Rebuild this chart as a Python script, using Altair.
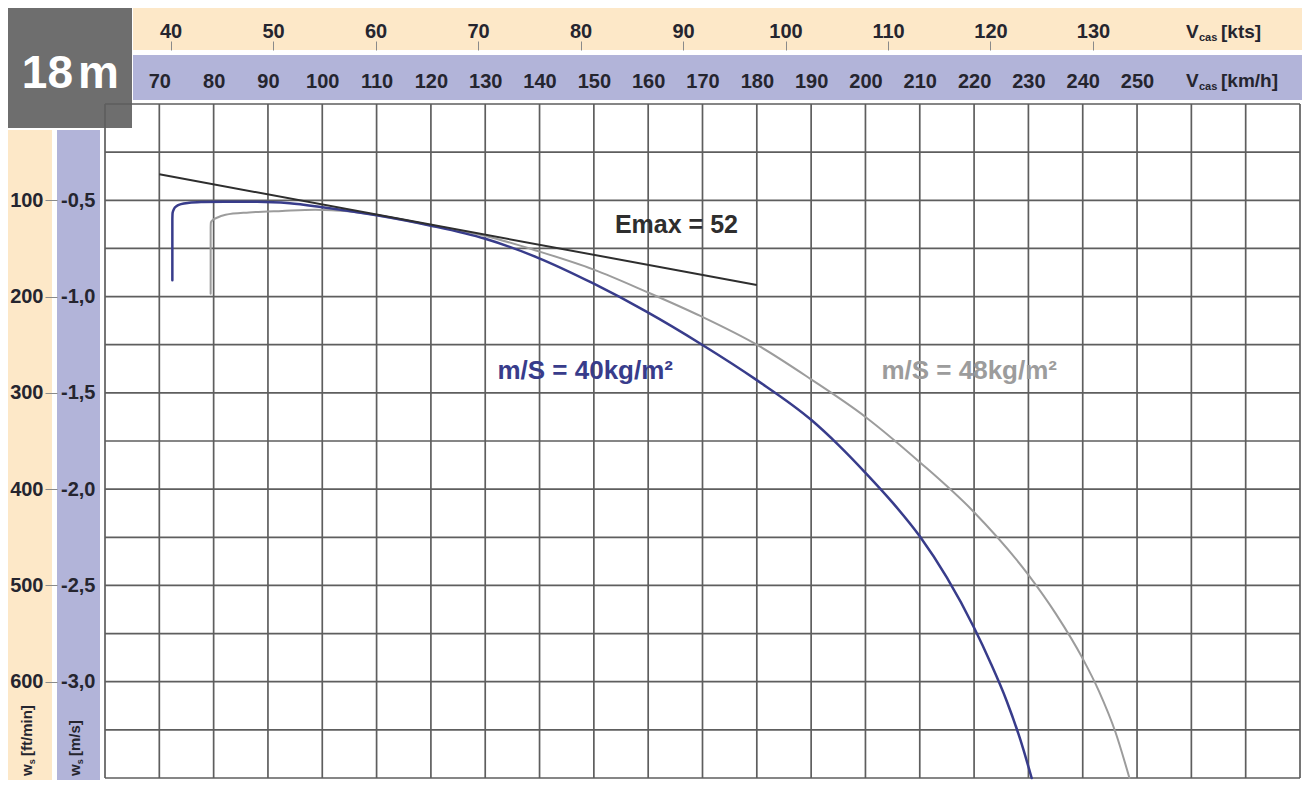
import altair as alt
import pandas as pd

# ---------------- data ----------------
kmh_ticks = [70, 80, 90, 100, 110, 120, 130, 140, 150, 160, 170, 180, 190, 200, 210, 220, 230, 240, 250]
kts_ticks = [40, 50, 60, 70, 80, 90, 100, 110, 120, 130]
ms_ticks = [-0.5, -1.0, -1.5, -2.0, -2.5, -3.0]
fpm_ticks = [100, 200, 300, 400, 500, 600]
grid_kmh = [60, 70, 80, 90, 100, 110, 120, 130, 140, 150, 160, 170, 180, 190, 200,
            210, 220, 230, 240, 250, 260, 270, 280]
grid_ms = [0.0, -0.25, -0.5, -0.75, -1.0, -1.25, -1.5, -1.75, -2.0, -2.25, -2.5,
           -2.75, -3.0, -3.25, -3.5]

# polar m/S = 40 kg/m2 (blue)
v40 = [72.4, 72.4, 72.45, 72.7, 73.2, 74.0, 75.5, 78.0, 82.0, 88.0, 94.0, 100.0,
       110.0, 120.0, 130.0, 139.5, 149.9, 159.6, 169.7, 180.0, 190.0, 195.0, 200.0,
       205.0, 210.0, 215.0, 220.0, 223.0, 226.0, 228.5, 230.6]
w40 = [-0.915, -0.60, -0.565, -0.545, -0.530, -0.520, -0.513, -0.509, -0.507, -0.507,
       -0.515, -0.536, -0.578, -0.632, -0.700, -0.796, -0.932, -1.077, -1.246, -1.434,
       -1.640, -1.770, -1.915, -2.070, -2.245, -2.460, -2.720, -2.900, -3.100, -3.300,
       -3.50]

# polar m/S = 48 kg/m2 (grey)
v48 = [79.45, 79.45, 79.5, 79.8, 80.5, 82.2, 86.5, 92.6, 98.7, 104.8, 110.0, 120.0,
       130.0, 139.5, 150.0, 159.6, 169.7, 180.0, 190.0, 200.0, 210.0, 220.0, 230.0,
       235.0, 240.0, 243.0, 246.0, 248.6]
w48 = [-0.985, -0.64, -0.615, -0.603, -0.592, -0.575, -0.563, -0.555, -0.549, -0.557,
       -0.578, -0.630, -0.685, -0.762, -0.860, -0.974, -1.102, -1.250, -1.430, -1.625,
       -1.860, -2.120, -2.445, -2.645, -2.880, -3.050, -3.260, -3.50]

# best glide tangent
v_emax = [70, 180]
w_emax = [-0.365, -0.94]

label_text = ["Emax = 52", "m/S = 40kg/m²", "m/S = 48kg/m²"]
label_v = [165.2, 148.4, 219.1]
label_w = [-0.628, -1.388, -1.388]

kmh_domain = [60, 280]
ms_domain = [-3.5, 0]
kts_domain = [33.6, 150.2]
fpm_domain = [0, 700]

# ---------------- style ----------------
W, H = 1195, 674
FONT = "Liberation Sans, Arial, sans-serif"
PEACH = "#fde8c8"
LAV = "#b2b4d9"
BOX = "#6e6e6e"
GRID = "#5e5e5e"
BLUE = "#383c8b"
GREYC = "#9c9c9c"
DARK = "#2e2e2e"
LABEL = "#25252f"
TICKC = "#8a8a8a"

xs = alt.Scale(domain=kmh_domain, nice=False, zero=False)
ys = alt.Scale(domain=ms_domain, nice=False, zero=False)
one = pd.DataFrame({"a": [0]})


def band(x1, x2, y1, y2, color):
    return alt.Chart(one).mark_rect(color=color).encode(
        x=alt.value(x1), x2=alt.value(x2), y=alt.value(y1), y2=alt.value(y2))


def ptext(txt, x, y, size, color=LABEL, weight="bold", angle=0, align="left",
          baseline="alphabetic", dx=0, dy=0, font=FONT):
    return alt.Chart(one).mark_text(
        text=txt, font=font, fontSize=size, fontWeight=weight, color=color,
        angle=angle, align=align, baseline=baseline, dx=dx, dy=dy).encode(
        x=alt.value(x), y=alt.value(y))


axis_common = dict(domain=False, grid=False, title=None, zindex=1, labelFont=FONT,
                   labelFontSize=20, labelFontWeight="bold", labelColor=LABEL,
                   labelOverlap=False, labelFlush=False)

kmh_axis = alt.Axis(orient="top", values=kmh_ticks, format="d", ticks=False, tickSize=0,
                    labelPadding=17, labelBaseline="alphabetic", **axis_common)
ms_axis = alt.Axis(orient="left", values=ms_ticks, ticks=False, tickSize=0,
                   labelExpr="'-' + replace(format(abs(datum.value), '.1f'), '.', ',')",
                   labelPadding=10, labelAlign="right", labelBaseline="middle", **axis_common)
kts_axis = alt.Axis(orient="top", values=kts_ticks, format="d", offset=54, ticks=True,
                    tickSize=9, tickColor=TICKC, tickWidth=1, labelPadding=4,
                    labelBaseline="alphabetic", **axis_common)
fpm_axis = alt.Axis(orient="left", values=fpm_ticks, format="d", offset=48, ticks=True,
                    tickSize=12, tickColor=TICKC, tickWidth=1, labelPadding=2,
                    labelAlign="right", labelBaseline="middle", **axis_common)

# ---------------- layers ----------------
bands = [
    band(28, W + 2, -96, -54, PEACH),
    band(28, W + 2, -49, -4, LAV),
    band(-97, -53, 26, H + 2, PEACH),
    band(-48, -5, 26, H + 2, LAV),
    band(-97, 27, -96, 24, BOX),
]

vgrid = alt.Chart(pd.DataFrame({"v": grid_kmh})).mark_rule(
    color=GRID, strokeWidth=1.7).encode(
    x=alt.X("v:Q", scale=xs, axis=None), y=alt.value(0), y2=alt.value(H))
hgrid = alt.Chart(pd.DataFrame({"w": grid_ms})).mark_rule(
    color=GRID, strokeWidth=1.7).encode(
    y=alt.Y("w:Q", scale=ys, axis=None), x=alt.value(0), x2=alt.value(W))


def curve(v, w, color, width):
    df = pd.DataFrame({"v": v, "w": w, "i": list(range(len(v)))})
    return alt.Chart(df).mark_line(color=color, strokeWidth=width, strokeJoin="round",
                                   strokeCap="round", interpolate="monotone").encode(
        x=alt.X("v:Q", scale=xs, axis=None), y=alt.Y("w:Q", scale=ys, axis=None),
        order="i:Q")


emax_line = alt.Chart(pd.DataFrame({"v": v_emax, "w": w_emax})).mark_line(
    color=DARK, strokeWidth=2).encode(
    x=alt.X("v:Q", scale=xs, axis=None), y=alt.Y("w:Q", scale=ys, axis=None))

lab_df = pd.DataFrame({"t": label_text, "v": label_v, "w": label_w})


def curve_label(idx, color, size):
    return alt.Chart(lab_df.iloc[[idx]]).mark_text(
        font=FONT, fontSize=size, fontWeight="bold", color=color,
        align="center", baseline="middle").encode(
        x=alt.X("v:Q", scale=xs, axis=None), y=alt.Y("w:Q", scale=ys, axis=None),
        text="t:N")


texts = [
    ptext("18", -32, -16, 46, color="white", align="right"),
    ptext("m", -27, -16, 46, color="white", align="left"),
    ptext("V", 1081, -66, 19),
    ptext("cas", 1094, -63, 11),
    ptext("[kts]", 1116, -66, 19),
    ptext("V", 1081, -17, 19),
    ptext("cas", 1094, -14, 11),
    ptext("[km/h]", 1116, -17, 19),
    ptext("w", -73, 672, 15, angle=270),
    ptext("s", -73, 672, 9, angle=270, dx=11.7, dy=3),
    ptext("[ft/min]", -73, 672, 15, angle=270, dx=20),
    ptext("w", -25, 672, 15, angle=270),
    ptext("s", -25, 672, 9, angle=270, dx=11.7, dy=3),
    ptext("[m/s]", -25, 672, 15, angle=270, dx=20),
]

core = alt.layer(
    *bands, vgrid, hgrid,
    curve(v48, w48, GREYC, 2.0),
    curve(v40, w40, BLUE, 2.5),
    emax_line,
    curve_label(0, DARK, 25),
    curve_label(1, BLUE, 26),
    curve_label(2, GREYC, 26),
    *texts,
)

kmh_layer = alt.Chart(pd.DataFrame({"kmh": kmh_ticks})).mark_point(opacity=0).encode(
    x=alt.X("kmh:Q", scale=alt.Scale(domain=kmh_domain, nice=False, zero=False),
            axis=kmh_axis),
    y=alt.value(0))

ms_layer = alt.Chart(pd.DataFrame({"ms": ms_ticks})).mark_point(opacity=0).encode(
    y=alt.Y("ms:Q", scale=alt.Scale(domain=ms_domain, nice=False, zero=False),
            axis=ms_axis),
    x=alt.value(0))

kts_layer = alt.Chart(pd.DataFrame({"kts": kts_ticks})).mark_point(opacity=0).encode(
    x=alt.X("kts:Q", scale=alt.Scale(domain=kts_domain, nice=False, zero=False),
            axis=kts_axis),
    y=alt.value(0))

fpm_layer = alt.Chart(pd.DataFrame({"fpm": fpm_ticks})).mark_point(opacity=0).encode(
    y=alt.Y("fpm:Q", scale=alt.Scale(domain=fpm_domain, reverse=True, nice=False, zero=False),
            axis=fpm_axis),
    x=alt.value(0))

chart = alt.layer(core, kmh_layer, ms_layer, kts_layer, fpm_layer).resolve_scale(
    x="independent", y="independent"
).properties(
    width=W, height=H,
    autosize=alt.AutoSizeParams(type="none"),
    padding={"left": 97, "top": 96, "right": 2, "bottom": 2},
    background="white",
).configure_view(stroke=None)

chart.save("out.html", embed_options={"renderer": "svg", "actions": False})
